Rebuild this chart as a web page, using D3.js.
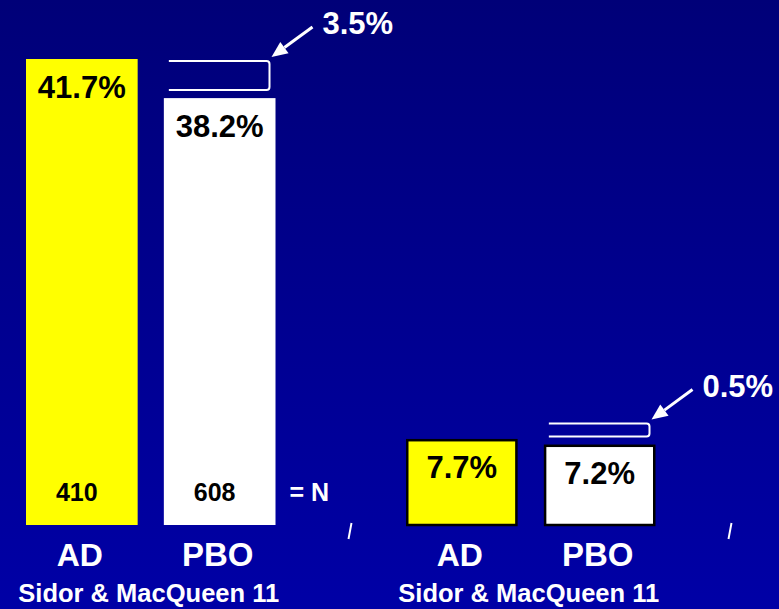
<!DOCTYPE html>
<html>
<head>
<meta charset="utf-8">
<script src="https://cdn.jsdelivr.net/npm/d3@7"></script>
<style>
  html, body { margin: 0; padding: 0; background: #000080; }
  svg { display: block; }
  text { font-family: "Liberation Sans", Arial, sans-serif; font-weight: bold; }
</style>
</head>
<body>
<svg id="chart" width="779" height="609"></svg>
<script>
// Study groups and arms
const groupLabels = ["Sidor & MacQueen 11", "Sidor & MacQueen 11"];
const armLabels = ["AD", "PBO"];
// Response rates (%) per group
const adValues = [41.7, 7.7];
const pboValues = [38.2, 7.2];
// Sample sizes (shown for the first group only)
const nValues = [410, 608];
const nLabel = "= N";
// Arm colours; second group is drawn with outlines
const armColors = ["#ffff00", "#ffffff"];
const outlined = [false, true];

const W = 779, H = 609;
const svg = d3.select("#chart");

// Background gradient
const defs = svg.append("defs");
const grad = defs.append("linearGradient").attr("id", "bg")
  .attr("x1", 0).attr("y1", 0).attr("x2", 0).attr("y2", 1);
grad.append("stop").attr("offset", "0%").attr("stop-color", "#000078");
grad.append("stop").attr("offset", "100%").attr("stop-color", "#0000a6");
svg.append("rect").attr("width", W).attr("height", H).attr("fill", "url(#bg)");

// Scales
const groups = d3.range(groupLabels.length);
const x0 = d3.scaleBand().domain(groups).range([-30, 730]);
const x1 = d3.scaleBand().domain(armLabels).range([56, 305.5]).paddingInner(0.19);
const y = d3.scaleLinear().domain([0, 41.7]).range([525, 59]);
const bw = x1.bandwidth();

const rows = groups.map(g => ({
  g,
  values: [adValues[g], pboValues[g]]
}));

const gGroup = svg.selectAll("g.group").data(rows).join("g")
  .attr("class", "group")
  .attr("transform", d => `translate(${x0(d.g)},0)`);

// Bars
gGroup.each(function(d) {
  const sel = d3.select(this);
  armLabels.forEach((arm, i) => {
    const v = d.values[i];
    const bx = x1(arm);
    const o = outlined[d.g];
    sel.append("rect")
      .attr("x", o ? bx + 1.25 : bx)
      .attr("y", o ? y(v) + 1.25 : y(v))
      .attr("width", o ? bw - 2.5 : bw)
      .attr("height", o ? y(0) - y(v) - 1.25 : y(0) - y(v))
      .attr("fill", armColors[i])
      .attr("stroke", o ? "#000" : "none")
      .attr("stroke-width", 2.5);

    // value label inside the top of the bar
    sel.append("text")
      .attr("x", bx + bw / 2)
      .attr("y", y(v) + 39)
      .attr("text-anchor", "middle")
      .attr("font-size", 31)
      .attr("fill", "#000")
      .text(d3.format(".1f")(v) + "%");

    // arm label under the axis
    sel.append("text")
      .attr("x", bx + bw / 2 - 2)
      .attr("y", 566)
      .attr("text-anchor", "middle")
      .attr("font-size", i === 0 ? 32 : 33)
      .attr("fill", "#fff")
      .text(arm);
  });

  // study label
  sel.append("text")
    .attr("x", (x1("AD") + x1("PBO") + bw) / 2 - 2)
    .attr("y", 602)
    .attr("text-anchor", "middle")
    .attr("font-size", 25.5)
    .attr("fill", "#fff")
    .text(groupLabels[d.g]);

  // difference bracket above the PBO bar
  const ad = d.values[0], pbo = d.values[1];
  const diffPx = y(pbo) - y(ad);
  const bottom = y(pbo) - 8;
  const top = bottom - Math.max(diffPx - 10, 13);
  const left = x1("PBO") + 5;
  const right = x1("PBO") + bw - 6;
  sel.append("path")
    .attr("d", `M${left},${top}H${right - 3}Q${right},${top} ${right},${top + 3}` +
               `V${bottom - 3}Q${right},${bottom} ${right - 3},${bottom}H${left}`)
    .attr("fill", "none")
    .attr("stroke", "#ffffff")
    .attr("stroke-width", 2);

  // arrow pointing to the bracket, with the difference label
  const tip = [right + 2, top - 4];
  const start = [tip[0] + 41, tip[1] - 30];
  const ang = Math.atan2(tip[1] - start[1], tip[0] - start[0]);
  const headLen = 16, headHalf = 7;
  const base = [tip[0] - headLen * Math.cos(ang), tip[1] - headLen * Math.sin(ang)];
  const px = -Math.sin(ang), py = Math.cos(ang);
  sel.append("line")
    .attr("x1", start[0]).attr("y1", start[1])
    .attr("x2", base[0]).attr("y2", base[1])
    .attr("stroke", "#fff").attr("stroke-width", 3);
  sel.append("path")
    .attr("d", `M${tip[0]},${tip[1]}L${base[0] + px * headHalf},${base[1] + py * headHalf}` +
               `L${base[0] - px * headHalf},${base[1] - py * headHalf}Z`)
    .attr("fill", "#fff");
  sel.append("text")
    .attr("x", start[0] + 10)
    .attr("y", start[1] + 7)
    .attr("font-size", 31)
    .attr("fill", "#fff")
    .text(d3.format(".1f")(ad - pbo) + "%");
});

// Sample sizes for the first group
const g0 = x0(0);
armLabels.forEach((arm, i) => {
  svg.append("text")
    .attr("x", g0 + x1(arm) + bw / 2 - 5)
    .attr("y", 501)
    .attr("text-anchor", "middle")
    .attr("font-size", 25)
    .attr("fill", "#000")
    .text(nValues[i]);
});
svg.append("text")
  .attr("x", g0 + x1("PBO") + bw + 14)
  .attr("y", 501)
  .attr("font-size", 25)
  .attr("fill", "#fff")
  .text(nLabel);

// Group boundary ticks on the category axis
svg.selectAll("line.tick").data(groups).join("line")
  .attr("class", "tick")
  .attr("x1", d => x0(d) + x0.step() + 1.5)
  .attr("y1", 523)
  .attr("x2", d => x0(d) + x0.step() - 1.5)
  .attr("y2", 539)
  .attr("stroke", "#fff")
  .attr("stroke-width", 2);
</script>
</body>
</html>
